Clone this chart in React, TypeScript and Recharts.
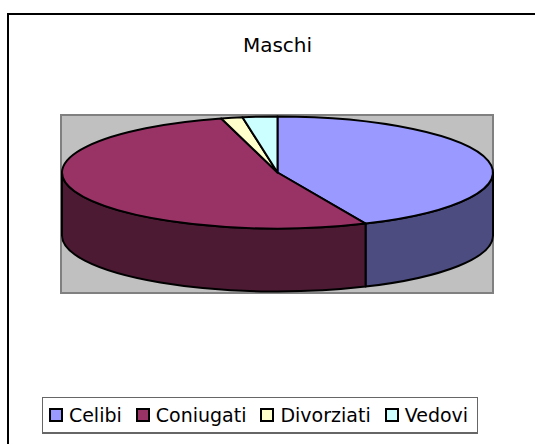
import React from 'react';
import { PieChart, Pie, Cell, Legend } from 'recharts';

const categories = ['Celibi', 'Coniugati', 'Divorziati', 'Vedovi'];
const values = [43.3, 52.5, 1.6, 2.6];
const topColors = ['#9999ff', '#993366', '#ffffcc', '#ccffff'];
const sideColors = ['#4c4c80', '#4c1a33', '#80806a', '#6a8080'];
const title = 'Maschi';

const data = categories.map((name, i) => ({ name, value: values[i], side: sideColors[i] }));

const RY_RATIO = 56 / 215.5;
const DEPTH = 63;
const FONT = '"DejaVu Sans", Verdana, sans-serif';

const renderSlice = (props: any) => {
  const { cx, cy, outerRadius, startAngle, endAngle, fill } = props;
  const side = props.side ?? props.payload?.side ?? fill;
  const rx = outerRadius;
  const ry = outerRadius * RY_RATIO;
  const rad = Math.PI / 180;
  const p = (a: number, dy = 0) => [cx + rx * Math.cos(a * rad), cy - ry * Math.sin(a * rad) + dy];
  const a1 = Math.max(startAngle, endAngle);
  const a2 = Math.min(startAngle, endAngle);
  const large = a1 - a2 > 180 ? 1 : 0;
  const s = p(a1);
  const e = p(a2);
  const top = `M${cx},${cy} L${s[0]},${s[1]} A${rx},${ry} 0 ${large} 1 ${e[0]},${e[1]} Z`;
  const intervals = [[-180, 0], [180, 360], [-540, -360]];
  const walls: string[] = [];
  for (const [f0, f1] of intervals) {
    const lo = Math.max(a2, f0);
    const hi = Math.min(a1, f1);
    if (lo < hi) {
      const h = p(hi);
      const l = p(lo);
      const ld = p(lo, DEPTH);
      const hd = p(hi, DEPTH);
      walls.push(
        `M${h[0]},${h[1]} A${rx},${ry} 0 0 1 ${l[0]},${l[1]} L${ld[0]},${ld[1]} A${rx},${ry} 0 0 0 ${hd[0]},${hd[1]} Z`
      );
    }
  }
  const wall = walls.join(' ');
  return (
    <g>
      {wall ? <path d={wall} fill={side} stroke="#000" strokeWidth={2} strokeLinejoin="round" /> : null}
      <path d={top} fill={fill} stroke="#000" strokeWidth={2} strokeLinejoin="round" />
    </g>
  );
};

const renderLegend = (props: any) => {
  const payload = (props.payload || []) as any[];
  return (
    <div
      style={{
        boxSizing: 'border-box',
        width: 436,
        height: 37,
        border: '1px solid #666',
        borderBottom: '2px solid #666',
        background: '#fff',
        display: 'flex',
        alignItems: 'center',
        justifyContent: 'center',
        paddingRight: 3,
        fontFamily: FONT,
        fontSize: 19,
        lineHeight: '19px',
        color: '#000',
      }}
    >
      {payload.map((item: any, i: number) => (
        <div key={i} style={{ display: 'flex', alignItems: 'center', marginLeft: i === 0 ? 0 : 14 }}>
          <div
            style={{
              boxSizing: 'border-box',
              width: 14,
              height: 14,
              border: '2px solid #000',
              background: item.color,
              marginRight: 6,
            }}
          />
          <span>{item.value}</span>
        </div>
      ))}
    </div>
  );
};

export default function App() {
  return (
    <div style={{ position: 'absolute', left: 0, top: 0, width: 535, height: 444, overflow: 'hidden', background: '#fff' }}>
      <div
        style={{
          position: 'absolute',
          left: 7,
          top: 13,
          width: 600,
          height: 600,
          border: '2px solid #000',
        }}
      />
      <div
        style={{
          position: 'absolute',
          left: 177.5,
          top: 35,
          width: 200,
          textAlign: 'center',
          fontFamily: FONT,
          fontSize: 20,
          lineHeight: '20px',
          color: '#000',
        }}
      >
        {title}
      </div>
      <div
        style={{
          position: 'absolute',
          left: 60,
          top: 114,
          width: 434,
          height: 180,
          boxSizing: 'border-box',
          background: '#c0c0c0',
          border: '2px solid #808080',
        }}
      />
      <div style={{ position: 'absolute', left: 0, top: 0 }}>
        <PieChart width={535} height={444} margin={{ top: 0, right: 0, bottom: 0, left: 0 }}>
          <Pie
            data={data}
            dataKey="value"
            nameKey="name"
            cx={277.5}
            cy={172.5}
            outerRadius={215.5}
            startAngle={90}
            endAngle={-270}
            isAnimationActive={false}
            stroke="#000"
            shape={renderSlice}
            inactiveShape={renderSlice}
            activeShape={renderSlice}
          >
            {data.map((d, i) => (
              <Cell key={d.name} fill={topColors[i]} />
            ))}
          </Pie>
          <Legend
            content={renderLegend}
            wrapperStyle={{ position: 'absolute', left: 42, top: 397, width: 436, height: 37 }}
          />
        </PieChart>
      </div>
    </div>
  );
}
